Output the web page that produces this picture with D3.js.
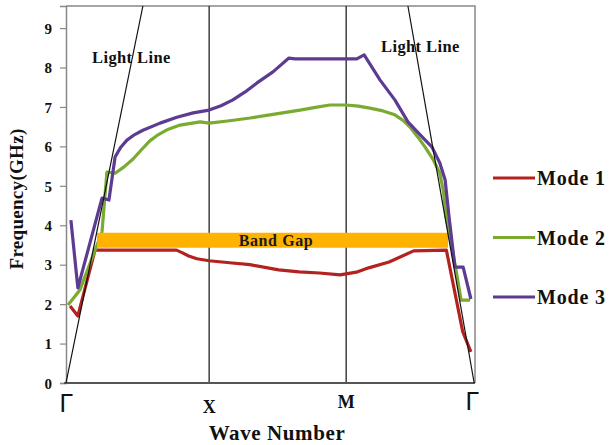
<!DOCTYPE html>
<html>
<head>
<meta charset="utf-8">
<script src="https://cdn.jsdelivr.net/npm/d3@7"></script>
<style>
	body { margin: 0; background: #fff; }
	svg text { font-family: "Liberation Serif", "Times New Roman", serif; font-weight: bold; }
</style>
</head>
<body>
<div id="chart"></div>
<script>
// wave number runs 0..100 along the Γ-X-M-Γ path
const symmetryPoints = [
	{label: "\u0393", k: 0},
	{label: "X", k: 35},
	{label: "M", k: 68.5},
	{label: "\u0393", k: 100}
];
const freqTicks = [0, 1, 2, 3, 4, 5, 6, 7, 8, 9];

const mode1 = [[1, 1.95], [2.9, 1.70], [7.1, 3.37], [27, 3.37], [28.5, 3.30], [30, 3.22], [32, 3.15],
	[35, 3.10], [40, 3.05], [45, 3.0], [52, 2.87], [57, 2.82], [62, 2.79], [67, 2.74], [71, 2.81],
	[74, 2.92], [79, 3.07], [85, 3.35], [93, 3.37], [97, 1.3], [99, 0.79]];
const mode2 = [[0.5, 1.98], [3.4, 2.36], [8.8, 3.83], [10, 5.35], [12, 5.32], [14.2, 5.48], [16.4, 5.68],
	[18.5, 5.92], [20.5, 6.14], [22.6, 6.30], [24.7, 6.42], [27.9, 6.54], [32.8, 6.62], [35, 6.59],
	[40, 6.65], [45, 6.72], [51, 6.82], [57.2, 6.92], [61, 6.99], [64.5, 7.05], [68.5, 7.05],
	[71.5, 7.02], [74.3, 6.97], [77.5, 6.90], [80.4, 6.80], [82.4, 6.66], [84.1, 6.49], [86, 6.24],
	[87.8, 5.98], [89.7, 5.68], [91.4, 5.32], [92.3, 4.85], [92.9, 4.24], [95.4, 2.84], [96.6, 2.10],
	[98.8, 2.10]];
const mode3 = [[1.2, 4.13], [2.9, 2.41], [8.8, 4.69], [10.5, 4.64], [12, 5.73], [13.4, 5.98], [14.9, 6.16],
	[16.8, 6.30], [18.8, 6.41], [23, 6.59], [27.1, 6.74], [31.1, 6.85], [35, 6.92], [37.9, 7.03],
	[40.8, 7.18], [43.8, 7.38], [46.7, 7.61], [50.6, 7.89], [54.5, 8.24], [56, 8.22], [71.1, 8.22],
	[72.9, 8.32], [76.8, 7.68], [80.4, 7.18], [83.6, 6.62], [86.6, 6.29], [89.5, 5.98], [91.4, 5.58],
	[92.7, 5.15], [93.6, 4.26], [95.1, 2.94], [97.1, 2.94], [99, 2.13]];

const lightLines = [
	[[0, 0], [18.8, 9.56]],
	[[83.6, 9.56], [99.8, 0]]
];
const bandGap = {k0: 7.6, k1: 93.4, f0: 3.43, f1: 3.81};

const modes = [
	{name: "Mode 1", data: mode1, color: "#b3221f"},
	{name: "Mode 2", data: mode2, color: "#7aab30"},
	{name: "Mode 3", data: mode3, color: "#5d3b92"}
];

const width = 613, height = 445;
const plot = {left: 66, right: 475, top: 6, bottom: 383};

const x = d3.scaleLinear().domain([0, 100]).range([plot.left, plot.right]);
const y = d3.scaleLinear().domain([0, 9.56]).range([plot.bottom, plot.top]);

const svg = d3.select("#chart")
	.append("svg")
	.attr("width", width)
	.attr("height", height);

// frame: top and right borders
svg.append("path")
	.attr("d", `M${plot.left},${plot.top}H${plot.right}V${plot.bottom}`)
	.attr("fill", "none")
	.attr("stroke", "#888")
	.attr("stroke-width", 1.5);

// y axis
const yAxis = svg.append("g")
	.attr("transform", `translate(${plot.left},0)`)
	.call(d3.axisLeft(y).tickValues(freqTicks).tickSize(6).tickPadding(8).tickFormat(d3.format("d")));
yAxis.select(".domain").attr("stroke", "#888").attr("stroke-width", 1.5);
yAxis.selectAll(".tick line").attr("stroke", "#888").attr("stroke-width", 1.2);
yAxis.selectAll(".tick text")
	.attr("font-size", 15)
	.attr("fill", "#111")
	.attr("dy", "0.35em");

// symmetry lines at X and M
svg.append("g")
	.selectAll("line")
	.data(symmetryPoints.slice(1, 3)).enter()
	.append("line")
	.attr("x1", d => x(d.k)).attr("x2", d => x(d.k))
	.attr("y1", plot.top).attr("y2", plot.bottom)
	.attr("stroke", "#222")
	.attr("stroke-width", 1.3);

// x axis baseline
svg.append("line")
	.attr("x1", plot.left - 2).attr("x2", plot.right)
	.attr("y1", plot.bottom).attr("y2", plot.bottom)
	.attr("stroke", "#555")
	.attr("stroke-width", 2);

// symmetry point labels
svg.append("g")
	.selectAll("text")
	.data(symmetryPoints).enter()
	.append("text")
	.attr("x", (d, i) => x(d.k) + (i === 3 ? -3 : 0))
	.attr("y", (d, i) => i === 0 ? 412 : (i === 3 ? 410 : (i === 1 ? 413 : 408)))
	.attr("text-anchor", "middle")
	.attr("font-size", d => d.label === "\u0393" ? 24 : 18)
	.style("font-family", d => d.label === "\u0393" ? "DejaVu Sans, sans-serif" : null)
	.style("font-weight", d => d.label === "\u0393" ? "normal" : null)
	.attr("fill", "#111")
	.text(d => d.label);

// mode curves
const line = d3.line().x(d => x(d[0])).y(d => y(d[1]));

svg.append("g")
	.selectAll("path")
	.data(modes).enter()
	.append("path")
	.attr("d", d => line(d.data))
	.attr("fill", "none")
	.attr("stroke", d => d.color)
	.attr("stroke-width", 3.2)
	.attr("stroke-linejoin", "round");

// band gap
svg.append("rect")
	.attr("x", x(bandGap.k0))
	.attr("width", x(bandGap.k1) - x(bandGap.k0))
	.attr("y", y(bandGap.f1))
	.attr("height", y(bandGap.f0) - y(bandGap.f1))
	.attr("fill", "#ffb300");

svg.append("text")
	.attr("x", 276)
	.attr("y", 246)
	.attr("text-anchor", "middle")
	.attr("font-size", 16)
	.attr("letter-spacing", 0.6)
	.attr("fill", "#1a1a1a")
	.text("Band Gap");

// light lines
svg.append("g")
	.selectAll("path")
	.data(lightLines).enter()
	.append("path")
	.attr("d", d => line(d))
	.attr("stroke", "#111")
	.attr("stroke-width", 1.2);

svg.append("text")
	.attr("x", 92).attr("y", 63)
	.attr("font-size", 16.5)
	.attr("letter-spacing", 0.4)
	.attr("fill", "#111")
	.text("Light Line");

svg.append("text")
	.attr("x", 381).attr("y", 52)
	.attr("font-size", 16.5)
	.attr("letter-spacing", 0.4)
	.attr("fill", "#111")
	.text("Light Line");

// axis titles
svg.append("text")
	.attr("transform", "translate(23,199) rotate(-90)")
	.attr("text-anchor", "middle")
	.attr("font-size", 19)
	.attr("letter-spacing", 0.3)
	.attr("fill", "#111")
	.text("Frequency(GHz)");

svg.append("text")
	.attr("x", 277).attr("y", 440)
	.attr("text-anchor", "middle")
	.attr("font-size", 21)
	.attr("letter-spacing", 0.6)
	.attr("fill", "#111")
	.text("Wave Number");

// legend
const legend = svg.append("g")
	.selectAll("g")
	.data(modes).enter()
	.append("g")
	.attr("transform", (d, i) => `translate(493,${178 + i * 59.5})`);

legend.append("line")
	.attr("x1", 0).attr("x2", 42)
	.attr("stroke", d => d.color)
	.attr("stroke-width", 3.2);

legend.append("text")
	.attr("x", 44).attr("y", 7)
	.attr("font-size", 20)
	.attr("letter-spacing", 0.8)
	.attr("fill", "#111")
	.text(d => d.name);
</script>
</body>
</html>
